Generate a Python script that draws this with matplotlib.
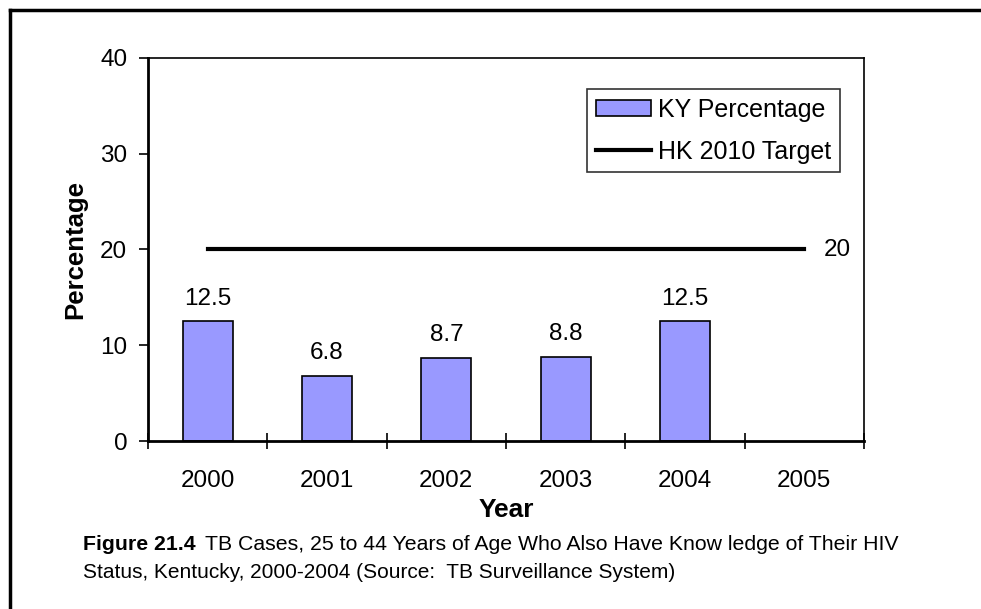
import matplotlib.pyplot as plt
import numpy as np
from matplotlib.lines import Line2D

plt.rcParams['font.family'] = ['Liberation Sans', 'DejaVu Sans']

# data
years = ['2000', '2001', '2002', '2003', '2004', '2005']
ky_pct = [12.5, 6.8, 8.7, 8.8, 12.5]
target = 20
y_ticks = [0, 10, 20, 30, 40]

fig = plt.figure(figsize=(9.81, 6.09), dpi=100)
ax = fig.add_axes([148 / 981, 1 - 441 / 609, 716 / 981, 383 / 609])

x = np.arange(len(years))
bars = ax.bar(x[:len(ky_pct)], ky_pct, width=0.42, color='#9999FF',
              edgecolor='black', linewidth=1.2, label='KY Percentage', zorder=2)
for xi, v in zip(x, ky_pct):
    ax.text(xi, v + 1.2, f'{v}', ha='center', va='bottom', fontsize=17.5)

tline, = ax.plot([x[0], x[-1]], [target, target], color='black', lw=3,
                 label='HK 2010 Target', zorder=3)
ax.text(x[-1] + 0.16, target, f'{target}', ha='left', va='center', fontsize=17.5)

ax.set_xlim(-0.5, len(years) - 0.5)
ax.set_ylim(0, 40)
ax.set_yticks(y_ticks)
ax.set_xticks(x)
ax.set_xticklabels(years)
ax.set_xticks(np.arange(-0.5, len(years)), minor=True)
ax.tick_params(axis='x', which='major', length=0, pad=21, labelsize=17.5)
ax.tick_params(axis='x', which='minor', length=12, width=1.2, direction='inout')
ax.tick_params(axis='y', length=6.5, width=1.2, direction='out', pad=8.5, labelsize=17.5)
for s in ax.spines.values():
    s.set_linewidth(1.2)
ax.spines['left'].set_linewidth(2)
ax.spines['bottom'].set_linewidth(2)

ax.set_xlabel('Year', fontsize=19, fontweight='bold', labelpad=4)
ax.set_ylabel('Percentage', fontsize=18.5, fontweight='bold', labelpad=9)

leg = ax.legend(handles=[bars, tline], loc='upper right',
                bbox_to_anchor=(0.967, 0.918), fontsize=18,
                frameon=True, fancybox=False, edgecolor='black',
                handlelength=2.2, handleheight=0.6, borderpad=0.35,
                labelspacing=0.7, handletextpad=0.3, borderaxespad=0)
leg.get_frame().set_linewidth(1.2)

# caption
cap_y1 = 1 - 545 / 609
cap_y2 = 1 - 573 / 609
fig.text(83 / 981, cap_y1, 'Figure 21.4', fontsize=15.3, fontweight='bold', va='center')
fig.text(205 / 981, cap_y1,
         'TB Cases, 25 to 44 Years of Age Who Also Have Know ledge of Their HIV',
         fontsize=15.3, va='center')
fig.text(83 / 981, cap_y2,
         'Status, Kentucky, 2000-2004 (Source:  TB Surveillance System)',
         fontsize=15, va='center')

# outer frame (left and top edges)
fig.add_artist(Line2D([10 / 981, 10 / 981], [0, 1 - 10 / 609], color='black',
                      lw=2.5, transform=fig.transFigure))
fig.add_artist(Line2D([10 / 981, 1], [1 - 10 / 609, 1 - 10 / 609], color='black',
                      lw=2.5, transform=fig.transFigure))

fig.savefig('out.png', dpi=100)
